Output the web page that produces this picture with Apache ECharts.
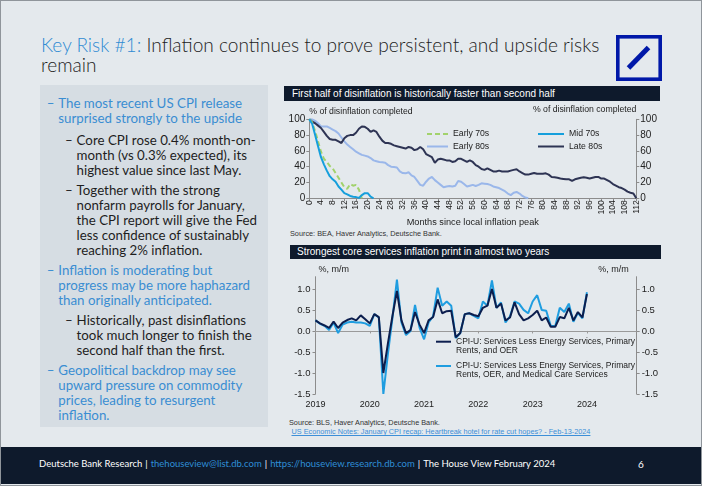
<!DOCTYPE html>
<html><head><meta charset="utf-8">
<script src="https://cdn.jsdelivr.net/npm/echarts@6/dist/echarts.min.js"></script>
<style>
html,body{margin:0;padding:0}
body{width:702px;height:486px;overflow:hidden;position:relative;background:#e4e9ed;font-family:Lato,"Open Sans",sans-serif}
.abs{position:absolute;white-space:nowrap}
#frame{position:absolute;left:0;top:0;width:700px;height:484px;border:1px solid #8f959b;pointer-events:none;z-index:5}
#title{left:41px;top:35px;font-size:19.1px;line-height:20px;color:#1c1c1c;font-weight:300}
#title .k{color:#2f8bd3}
#panel{left:40px;top:85px;width:228px;height:342px;background:#d6dde3}
.blk{position:absolute;font-size:13.3px;line-height:15px;white-space:nowrap;font-weight:400}
.blk .d{position:absolute;left:0;top:0}
.blk .t{position:absolute;left:11.6px;top:0}
.blue{color:#3a8dd2}
.blk.sub{color:#1e1e1e}
.hdr{position:absolute;background:#0e1a2c;color:#fff;font-family:"Liberation Sans",Arial,sans-serif;font-size:10px;line-height:15px;white-space:nowrap}
.src{position:absolute;font-family:"Liberation Sans",Arial,sans-serif;font-size:7.3px;line-height:9px;color:#333;white-space:nowrap}
.lnk{color:#3d8fd8;text-decoration:underline}
#footer{left:0;top:447px;width:702px;height:37px;background:#0e1a2c}
#ftext{left:39px;top:457px;font-size:9.5px;line-height:14px;color:#fff}
#ftext .b{color:#2f8ed6}
#ftext .s{padding:0 3px}
#chart{position:absolute;left:0;top:0;width:702px;height:486px;z-index:3}
</style>
</head><body>
<div id="panel" class="abs"></div>
<div id="title" class="abs"><span class="k">Key Risk #1:</span> Inflation continues to prove persistent, and upside risks<br>remain</div>
<svg class="abs" style="left:616px;top:35px" width="46" height="46" viewBox="0 0 46 46">
  <rect x="1.8" y="1.8" width="42.4" height="42.4" fill="none" stroke="#0018a8" stroke-width="3.6"/>
  <line x1="12.5" y1="33" x2="32.5" y2="12.5" stroke="#0018a8" stroke-width="5"/>
</svg>

<div class="blk blue" style="left:46.7px;top:95.8px"><span class="d">–</span><span class="t">The most recent US CPI release<br>surprised strongly to the upside</span></div>
<div class="blk sub" style="left:65px;top:132.5px"><span class="d">–</span><span class="t">Core CPI rose 0.4% month-on-<br>month (vs 0.3% expected), its<br>highest value since last May.</span></div>
<div class="blk sub" style="left:65px;top:182.5px"><span class="d">–</span><span class="t">Together with the strong<br>nonfarm payrolls for January,<br>the CPI report will give the Fed<br>less confidence of sustainably<br>reaching 2% inflation.</span></div>
<div class="blk blue" style="left:46.7px;top:262.5px"><span class="d">–</span><span class="t">Inflation is moderating but<br>progress may be more haphazard<br>than originally anticipated.</span></div>
<div class="blk sub" style="left:65px;top:313.2px"><span class="d">–</span><span class="t">Historically, past disinflations<br>took much longer to finish the<br>second half than the first.</span></div>
<div class="blk blue" style="left:46.7px;top:363.2px"><span class="d">–</span><span class="t">Geopolitical backdrop may see<br>upward pressure on commodity<br>prices, leading to resurgent<br>inflation.</span></div>

<div class="hdr" style="left:284px;top:86px;width:368px;height:15px;padding-left:8px">First half of disinflation is historically faster than second half</div>
<div class="hdr" style="left:290px;top:245px;width:364px;height:14px;line-height:14px;padding-left:7px">Strongest core services inflation print in almost two years</div>
<div class="src" style="left:290px;top:228.8px">Source: BEA, Haver Analytics, Deutsche Bank.</div>
<div class="src" style="left:289px;top:418.2px">Source: BLS, Haver Analytics, Deutsche Bank.</div>
<div class="src" style="left:291.5px;top:427.2px"><span class="lnk">US Economic Notes: January CPI recap: Heartbreak hotel for rate cut hopes? - Feb-13-2024</span></div>

<div id="footer" class="abs"></div>
<div id="ftext" class="abs">Deutsche Bank Research<span class="s">|</span><span class="b">thehouseview@list.db.com</span><span class="s">|</span><span class="b">https://houseview.research.db.com</span><span class="s">|</span>The House View February 2024</div>
<div class="abs" style="left:638px;top:457px;font-size:10px;line-height:14px;color:#fff">6</div>
<div id="chart"></div>
<div id="frame"></div>
<script>
// ---------- Chart 1: % of disinflation completed vs months since peak ----------
const early70sMonths = [0,1,2,3,4,5,6,7,8,9,10,11,12,13,14,15,16,17,18];
const early70sValues = [100,96,85,72,59,50,46,41,38,32,26,20,14,12,18,16,17,11,0];
const mid70sMonths = [0,1,2,3,4,5,6,7,8,9,10,11,12,13,14,15,16,17,18,19,20,21,22];
const mid70sValues = [100,94,80,66,52,43,35,28,24,21,15,11,6.5,5,3,2,1.5,0.5,4,6.5,6.5,2,0];
const early80sMonths = [0,1,2,3,4,5,6,7,8,9,10,11,12,13,14,15,16,17,18,19,20,21,22,23,24,25,26,27,28,29,30,31,32,33,34,35,36,37,38,39,40,41,42,43,44,45,46,47,48,49,50,51,52,53,54,55,56,57,58,59,60,61,62,63,64,65,66,67,68,69,70,71,72,73,74,75];
const early80sValues = [100,100,98,95,91,91,91,89,87,85,82,77,72,68,65,62,59,57,55,54,53,51,48,47,46,45.5,45,42,40,39.5,39,34,32,31.6,33,29,27,22,17,16,21,25,27,23,20,17,14,15,15.6,15,16,22,21,18,15,16,17,15.6,17,19,18.5,18,17,15,14,13,11,9,6,4,7,8,6,3,1,0];
const late80sMonths = [0,1,2,3,4,5,6,7,8,9,10,11,12,13,14,15,16,17,18,19,20,21,22,23,24,25,26,27,28,29,30,31,32,33,34,35,36,37,38,39,40,41,42,43,44,45,46,47,48,49,50,51,52,53,54,55,56,57,58,59,60,61,62,63,64,65,66,67,68,69,70,71,72,73,74,75,76,77,78,79,80,81,82,83,84,85,86,87,88,89,90,91,92,93,94,95,96,97,98,99,100,101,102,103,104,105,106,107,108,109,110,111,112];
const late80sValues = [100,97,95,92,89,84,79,75,74,74,72,70,76,79,80,80,83,88,91,90.5,88,84,86,84,78,73,70,70,69,67,66,65,64,63,65,64,61,62,65,62,56,54,52,45,49,50,49,48,48,46,47,50,50,48,46,48,46,42,40,37,36,38,36,34,34,35,34,34,34,35,36,36.7,34,32,30,30,31,32,31,31,31,31.6,30,27,26.6,26,25,24.5,24,24,22,24,25,26,26.6,26,25,26,27,27,25,25,23,21,18,16,14,13,11,8.4,7,6,0];
const monthTicks = [0,112,4]; // min, max, step of the months axis
const pctTicks = [0,100,20];

// ---------- Chart 2: core services CPI, % m/m ----------
const months = [];
for (let y = 2019; y <= 2024; y++) for (let m = 1; m <= 12; m++) months.push(y + '-' + String(m).padStart(2,'0'));
const nameOER = 'CPI-U: Services Less Energy Services, Primary Rents, and OER';
const nameMed = 'CPI-U: Services Less Energy Services, Primary Rents, OER, and Medical Care Services';
const valuesOER = [0.25,0.18,0.13,0.07,0.22,0.07,0.20,0.26,0.30,0.25,0.37,0.28,0.18,0.40,0.33,-1.00,-0.30,0.35,0.95,0.25,-0.05,0.02,0.45,0.15,-0.05,0.25,0.33,0.75,0.42,0.47,0.48,-0.15,-0.05,0.40,0.42,0.38,0.35,0.55,0.60,1.00,0.55,0.65,0.25,0.32,0.68,0.40,0.25,0.30,0.38,0.48,0.25,0.32,0.10,0.10,0.33,0.30,0.55,0.25,0.45,0.32,0.88];
const valuesMed = [0.25,0.17,0.12,0.02,0.20,-0.05,0.15,0.20,0.22,0.20,0.20,0.18,0.12,0.40,0.32,-1.50,-0.55,0.30,1.22,0.20,-0.10,0.00,0.62,0.08,-0.20,0.20,0.35,1.03,0.60,0.70,0.60,-0.17,-0.05,0.40,0.42,0.36,0.30,0.70,0.60,1.20,0.55,0.68,0.20,0.35,0.70,0.65,0.50,0.42,0.70,0.85,0.50,0.48,0.12,0.12,0.55,0.45,0.65,0.22,0.43,0.30,0.92];
const mmTicks = [-1.5,-1.0,-0.5,0.0,0.5,1.0];

const zip = (xs, ys) => xs.map((x, i) => [x, ys[i]]);
const FONT = '"Liberation Sans", Arial, sans-serif';
const AX = '#8c8c8c', TXT = '#222';

const chart = echarts.init(document.getElementById('chart'), null, {renderer: 'canvas'});
const baseY = (grid, pos, extra) => Object.assign({
  type: 'value', gridIndex: grid, position: pos,
  axisLine: {show: true, lineStyle: {color: AX}},
  axisTick: {show: true, length: 3, lineStyle: {color: AX}},
  splitLine: {show: false},
  axisLabel: {color: TXT, fontSize: 10, margin: 4, fontFamily: FONT},
  nameTextStyle: {color: TXT, fontSize: 8.7, fontFamily: FONT}
}, extra);
const twoLine = (n) => ' \n' + n.replace('Primary ', 'Primary\n');

chart.setOption({
  animation: false,
  textStyle: {fontFamily: FONT},
  grid: [
    {left: 309.3, top: 119.3, width: 327, height: 79},
    {left: 315.5, top: 276.7, width: 321.2, height: 117.3}
  ],
  xAxis: [
    {type: 'value', gridIndex: 0, min: monthTicks[0], max: monthTicks[1], interval: monthTicks[2],
     axisLine: {lineStyle: {color: AX}}, axisTick: {length: 3, lineStyle: {color: AX}},
     splitLine: {show: false},
     axisLabel: {rotate: 90, fontSize: 8.5, color: TXT, margin: 2, fontFamily: FONT},
     name: 'Months since local inflation peak', nameLocation: 'middle', nameGap: 19.5,
     nameTextStyle: {fontSize: 9.2, color: TXT, fontFamily: FONT}},
    {type: 'category', gridIndex: 1, data: months, boundaryGap: false, position: 'bottom',
     axisLine: {show: false, onZero: false}, axisTick: {show: false},
     axisLabel: {interval: (i) => i % 12 === 0, formatter: (v) => v.slice(0, 4), fontSize: 9, color: TXT, margin: 6, fontFamily: FONT}},
    {type: 'category', gridIndex: 1, data: months, boundaryGap: false, position: 'top',
     axisLine: {show: true, onZero: true, lineStyle: {color: '#9a9a9a'}},
     axisTick: {show: true, inside: true, length: 2.5, interval: (i) => i % 12 === 0, lineStyle: {color: '#9a9a9a'}},
     axisLabel: {show: false}}
  ],
  yAxis: [
    baseY(0, 'left', {min: pctTicks[0], max: pctTicks[1], interval: pctTicks[2],
      name: '% of disinflation completed', nameLocation: 'end', nameGap: 3,
      nameTextStyle: {color: TXT, fontSize: 8.7, fontFamily: FONT, align: 'left'}}),
    baseY(0, 'right', {min: pctTicks[0], max: pctTicks[1], interval: pctTicks[2],
      name: '% of disinflation completed', nameLocation: 'end', nameGap: 5.5,
      nameTextStyle: {color: TXT, fontSize: 8.7, fontFamily: FONT, align: 'right'}}),
    baseY(1, 'left', {min: -1.5, max: 1.29,
      axisTick: {show: true, length: 3, customValues: mmTicks, lineStyle: {color: AX}},
      axisLabel: {color: TXT, fontSize: 9.5, margin: 5, fontFamily: FONT, customValues: mmTicks, formatter: (v) => v.toFixed(1)},
      name: '%, m/m', nameLocation: 'end', nameGap: 3,
      nameTextStyle: {color: TXT, fontSize: 9, fontFamily: FONT, align: 'left', padding: [0, 0, 0, 3]}}),
    baseY(1, 'right', {min: -1.5, max: 1.29,
      axisTick: {show: true, length: 3, customValues: mmTicks, lineStyle: {color: AX}},
      axisLabel: {color: TXT, fontSize: 9.5, margin: 5, fontFamily: FONT, customValues: mmTicks, formatter: (v) => v.toFixed(1)},
      name: '%, m/m', nameLocation: 'end', nameGap: 3,
      nameTextStyle: {color: TXT, fontSize: 9, fontFamily: FONT, align: 'right', padding: [0, 8, 0, 0]}})
  ],
  legend: [
    {data: ['Early 70s', 'Early 80s'], orient: 'vertical', left: 426, top: 129, padding: 0, itemWidth: 21, itemHeight: 10, itemGap: 2.5,
     itemStyle: {opacity: 0}, textStyle: {fontSize: 8.7, color: TXT, lineHeight: 10, fontFamily: FONT}},
    {data: ['Mid 70s', 'Late 80s'], orient: 'vertical', left: 537, top: 129, padding: 0, itemWidth: 26, itemHeight: 10, itemGap: 2.5,
     itemStyle: {opacity: 0}, textStyle: {fontSize: 8.7, color: TXT, lineHeight: 10, fontFamily: FONT}},
    {data: [nameOER], orient: 'vertical', left: 435, top: 328.2, padding: 0, itemWidth: 15, itemHeight: 10,
     itemStyle: {opacity: 0}, formatter: twoLine,
     textStyle: {fontSize: 8.5, color: TXT, lineHeight: 9, fontFamily: FONT}},
    {data: [nameMed], orient: 'vertical', left: 435, top: 352.5, padding: 0, itemWidth: 15, itemHeight: 10,
     itemStyle: {opacity: 0}, formatter: twoLine,
     textStyle: {fontSize: 8.5, color: TXT, lineHeight: 9, fontFamily: FONT}}
  ],
  series: [
    {name: 'Early 80s', type: 'line', xAxisIndex: 0, yAxisIndex: 0, data: zip(early80sMonths, early80sValues),
     symbol: 'none', lineStyle: {color: '#9ab7ea', width: 2}, itemStyle: {color: '#9ab7ea'}},
    {name: 'Late 80s', type: 'line', xAxisIndex: 0, yAxisIndex: 0, data: zip(late80sMonths, late80sValues),
     symbol: 'none', lineStyle: {color: '#2e3454', width: 2}, itemStyle: {color: '#2e3454'}},
    {name: 'Early 70s', type: 'line', xAxisIndex: 0, yAxisIndex: 0, data: zip(early70sMonths, early70sValues),
     symbol: 'none', lineStyle: {color: '#a2d26c', width: 2, type: [5, 3]}, itemStyle: {color: '#a2d26c'}},
    {name: 'Mid 70s', type: 'line', xAxisIndex: 0, yAxisIndex: 0, data: zip(mid70sMonths, mid70sValues),
     symbol: 'none', lineStyle: {color: '#159fdc', width: 2}, itemStyle: {color: '#159fdc'}},
    {name: nameMed, type: 'line', xAxisIndex: 1, yAxisIndex: 2, data: valuesMed,
     symbol: 'none', lineStyle: {color: '#1f9de0', width: 2}, itemStyle: {color: '#1f9de0'}},
    {name: nameOER, type: 'line', xAxisIndex: 1, yAxisIndex: 2, data: valuesOER,
     symbol: 'none', lineStyle: {color: '#0c1e4e', width: 2}, itemStyle: {color: '#0c1e4e'}}
  ]
});
</script>
</body></html>
